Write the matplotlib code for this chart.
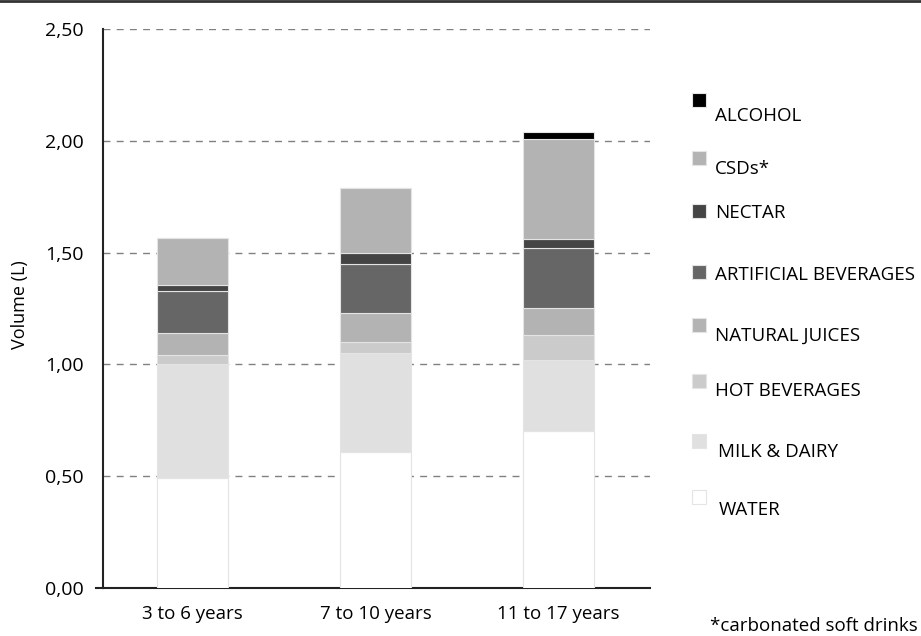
import numpy as np
import matplotlib.pyplot as plt
from matplotlib.patches import Rectangle
from matplotlib.lines import Line2D

plt.rcParams['font.family'] = ['Open Sans', 'DejaVu Sans']

groups = ["3 to 6 years", "7 to 10 years", "11 to 17 years"]

# stacked from bottom to top
categories = ["WATER", "MILK & DAIRY", "HOT BEVERAGES", "NATURAL JUICES",
              "ARTIFICIAL BEVERAGES", "NECTAR", "CSDs*", "ALCOHOL"]
water = [0.49, 0.61, 0.70]
milk = [0.51, 0.44, 0.32]
hot = [0.04, 0.05, 0.11]
natural = [0.10, 0.13, 0.12]
artificial = [0.19, 0.22, 0.27]
nectar = [0.025, 0.05, 0.04]
csds = [0.21, 0.29, 0.45]
alcohol = [0.0, 0.0, 0.03]
series = [water, milk, hot, natural, artificial, nectar, csds, alcohol]
colors = ["#ffffff", "#e0e0e0", "#cbcbcb", "#b3b3b3",
          "#666666", "#444444", "#b3b3b3", "#000000"]

yticks = [0.0, 0.5, 1.0, 1.5, 2.0, 2.5]

fig = plt.figure(figsize=(9.21, 6.36), dpi=100)
ax = fig.add_axes([0.1118, 0.0755, 0.594, 0.879])

x = np.arange(len(groups))
bottom = np.zeros(len(groups))
for vals, col in zip(series, colors):
    ax.bar(x, vals, width=0.39, bottom=bottom, color=col,
           edgecolor="#e4e4e4", linewidth=0.8, zorder=3)
    bottom += np.array(vals)

ax.set_xlim(-0.49, 2.5)
ax.set_ylim(0, 2.5)
ax.set_yticks(yticks)
ax.set_yticklabels([f"{v:.2f}".replace(".", ",") for v in yticks], fontsize=14)
ax.set_xticks(x)
ax.set_xticklabels(groups, fontsize=13.5)
ax.tick_params(axis="x", length=0, pad=12)
ax.tick_params(axis="y", length=0, pad=14)
ax.set_ylabel("Volume (L)", fontsize=13)
ax.yaxis.label.set_va("center")
ax.yaxis.set_label_coords(-0.152, 0.506)

for v in yticks[1:]:
    ax.axhline(v, color="#808080", linestyle=(0, (5, 4.5)), linewidth=1.0,
               zorder=1)

for s in ["top", "right"]:
    ax.spines[s].set_visible(False)
ax.spines["left"].set_linewidth(1.5)
ax.spines["bottom"].set_linewidth(1.5)
ax.spines["left"].set_color("#222222")
ax.spines["bottom"].set_color("#222222")
# small outward tick at zero
ax.plot([-0.53, -0.49], [0, 0], color="#222222", linewidth=1.5,
        clip_on=False)

# manual legend (top to bottom)
leg_sq_y = [0.832, 0.741, 0.658, 0.561, 0.478, 0.390, 0.296, 0.207]
leg_txt_y = [0.817, 0.734, 0.665, 0.567, 0.472, 0.385, 0.289, 0.198]
leg_txt_x = [0.776, 0.776, 0.776, 0.776, 0.776, 0.776, 0.780, 0.780]
for i, cat in enumerate(categories[::-1]):
    col = colors[::-1][i]
    fig.add_artist(Rectangle((0.751, leg_sq_y[i]), 0.0155, 0.022,
                             transform=fig.transFigure, facecolor=col,
                             edgecolor="#e4e4e4", linewidth=0.8))
    fig.text(leg_txt_x[i], leg_txt_y[i], cat, fontsize=13.5, va="center",
             ha="left")

fig.text(0.997, 0.016, "*carbonated soft drinks", fontsize=13.5,
         ha="right", va="center")

fig.add_artist(Line2D([0, 1], [0.998, 0.998], transform=fig.transFigure,
                      color="#333333", linewidth=2))

fig.savefig("out.png", dpi=100)
